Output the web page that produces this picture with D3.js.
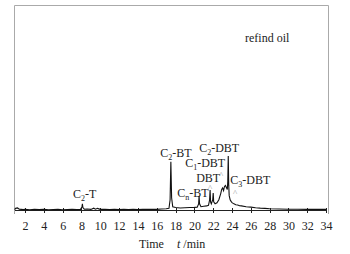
<!DOCTYPE html>
<html><head><meta charset="utf-8">
<script src="https://cdn.jsdelivr.net/npm/d3@7"></script>
<style>body{margin:0;background:#fff}svg{display:block}text{font-family:"Liberation Serif","Times New Roman",serif;fill:#222}</style>
</head><body>
<svg id="c" width="350" height="254"></svg>
<script>
const times = [0.9,1.0,1.2,1.4,1.6,1.8,2.0,2.5,3,3.5,4,4.5,5,5.5,6,6.5,7,7.5,7.9,8.05,8.1,8.15,8.3,8.6,9.0,9.3,9.5,9.7,10,10.5,11,11.5,12,12.5,13,13.5,14,14.5,15,15.5,16,16.5,17,17.3,17.42,17.5,17.58,17.7,18,18.5,19,19.5,20,20.3,20.45,20.5,20.55,20.7,21,21.3,21.5,21.62,21.67,21.72,21.8,21.95,22.0,22.05,22.2,22.4,22.6,22.8,22.9,23.0,23.1,23.2,23.3,23.4,23.5,23.55,23.6,23.65,23.7,23.8,23.9,24.0,24.2,24.4,24.6,24.8,25,25.5,26,26.5,27,27.5,28,29,30,31,32,33,34];
const signal = [0.2,0.8,1.0,0.4,0.3,0.2,0.3,0.1,0.3,0.2,0.3,0.1,0.2,0.3,0.1,0.2,0.3,0.2,0.3,1.5,3.0,1.2,0.4,0.5,0.3,0.9,0.4,0.8,0.3,0.4,0.2,0.3,0.2,0.3,0.2,0.3,0.2,0.3,0.3,0.4,0.3,0.5,0.6,0.8,5,23.5,6,1.6,1.2,1.0,1.1,1.2,1.3,1.4,3,6.8,3,1.6,1.8,2.0,2.3,5,9.8,4,3,5,8.3,4,3,3.5,5,8,10,10.7,9.5,11.5,12,11,10,14,26.3,12,7,5,4.2,3.6,3.0,2.6,2.4,2.1,2.0,1.6,1.4,1.1,0.9,0.8,0.6,0.5,0.4,0.4,0.3,0.3,0.3];
const tickValues = [2,4,6,8,10,12,14,16,18,20,22,24,26,28,30,32,34];
const labelMain = ["C","C","C","C","DBT","C","C"];
const labelSub  = ["2","2","2","1","","n","3"];
const labelRest = ["-T","-BT","-DBT","-DBT","","-BT","-DBT"];
const labelT    = [7.11,16.36,20.51,19.02,20.19,18.17,23.81];
const labelV    = [5.85,25.9,28.3,21.0,13.7,6.3,12.7];
const caretT = [21.68,22.85,24.34];
const caretV = [12.2,18.5,9.8];
const legendText = "refind oil";

const svg = d3.select("#c");
const x = d3.scaleLinear().domain([0.83,34.2]).range([14,328]);
const y = d3.scaleLinear().domain([0,100]).range([210,5]);

// frame
svg.append("path").attr("d","M14.5,214V5.5H328.5V214").attr("fill","none").attr("stroke","#aaa").attr("stroke-width",1);

// x axis
const ax = svg.append("g").attr("transform","translate(0,211)")
  .call(d3.axisBottom(x).tickValues(tickValues).tickSize(0).tickPadding(0).tickFormat(d3.format("d")));
ax.select(".domain").remove();
ax.selectAll(".tick text").attr("y",19).attr("dy",0).style("font-size","12px").style("font-family","Liberation Serif").attr("fill","#222");
svg.append("line").attr("x1",15).attr("x2",327).attr("y1",210.5).attr("y2",210.5).attr("stroke","#222").attr("stroke-width",1);
svg.selectAll("line.tk").data(tickValues).join("line").attr("class","tk")
  .attr("x1",d=>Math.round(x(d))+0.5).attr("x2",d=>Math.round(x(d))+0.5).attr("y1",208).attr("y2",213)
  .attr("stroke","#222").attr("stroke-width",1);

// trace
const pts = times.map((t,i)=>[t,signal[i]]);
svg.append("path").datum(pts)
  .attr("d",d3.line().x(d=>x(d[0])).y(d=>y(d[1])))
  .attr("fill","none").attr("stroke","#111").attr("stroke-width",1.1);

// labels
labelMain.forEach((m,i)=>{
  const t = svg.append("text").attr("x",x(labelT[i])).attr("y",y(labelV[i])).style("font-size","12px");
  t.append("tspan").text(m);
  if(labelSub[i]){
    t.append("tspan").text(labelSub[i]).style("font-size","8px").attr("dy",3);
    t.append("tspan").text(labelRest[i]).attr("dy",-3);
  }
});
caretT.forEach((c,i)=>{
  svg.append("text").attr("x",x(c)).attr("y",y(caretV[i])+6).attr("text-anchor","middle")
    .style("font-size","9px").style("fill","#999").text("^");
});

svg.append("text").attr("x",245).attr("y",42).style("font-size","12px").text(legendText);
svg.append("text").attr("x",139).attr("y",248).style("font-size","12px").text("Time");
const tl = svg.append("text").attr("x",177).attr("y",248).style("font-size","12px");
tl.append("tspan").style("font-style","italic").text("t");
tl.append("tspan").text(" /min");
</script>
</body></html>
